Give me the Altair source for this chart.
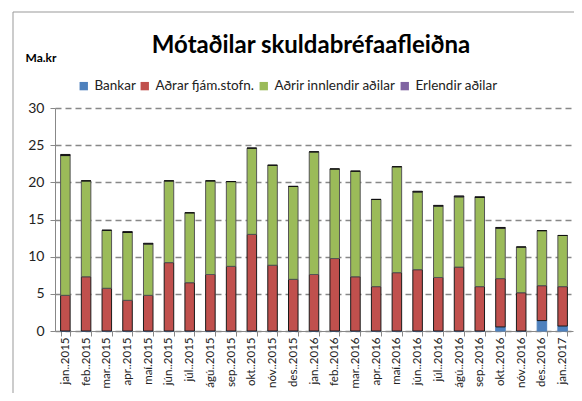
import altair as alt
import pandas as pd

months = ["jan..2015", "feb..2015", "mar..2015", "apr..2015", "maí.2015", "jún..2015",
          "júl..2015", "ágú..2015", "sep..2015", "okt..2015", "nóv..2015", "des..2015",
          "jan..2016", "feb..2016", "mar..2016", "apr..2016", "maí.2016", "jún..2016",
          "júl..2016", "ágú..2016", "sep..2016", "okt..2016", "nóv..2016", "des..2016",
          "jan..2017"]

bankar = [0, 0, 0, 0, 0, 0, 0, 0, 0, 0, 0, 0,
          0, 0, 0, 0, 0, 0, 0, 0, 0, 0.55, 0, 1.4, 0.67]
adrar_fjam = [4.8, 7.3, 5.75, 4.13, 4.8, 9.2, 6.5, 7.6, 8.7, 13.0, 8.85, 6.95,
              7.6, 9.75, 7.3, 5.97, 7.85, 8.25, 7.2, 8.6, 5.97, 6.5, 5.15, 4.7, 5.3]
adrir_innl = [18.8, 12.9, 7.8, 9.12, 6.9, 11.0, 9.4, 12.6, 11.4, 11.6, 13.45, 12.5,
              16.5, 12.05, 14.2, 11.73, 14.25, 10.45, 9.6, 9.45, 11.99, 6.78, 6.15, 7.4, 6.88]
erlendir = [0.15, 0, 0, 0.12, 0.1, 0, 0, 0, 0, 0, 0, 0,
            0, 0, 0, 0, 0, 0.1, 0.1, 0.12, 0.1, 0.1, 0, 0, 0]

series = ["Bankar", "Aðrar fjám.stofn.", "Aðrir innlendir aðilar", "Erlendir aðilar"]
colors = ["#4F81BD", "#C0504D", "#9BBB59", "#8064A2"]
strokes = ["#4F81BD", "#1a1a1a", "#555555", "#111111"]
title_text = ["Mótaðilar skuldabréfaafleiðna"]

rows = []
for i, m in enumerate(months):
    for k, (s, vals) in enumerate(zip(series, [bankar, adrar_fjam, adrir_innl, erlendir])):
        rows.append({"month": m, "series": s, "value": vals[i], "order": k})
df = pd.DataFrame(rows)

FONT = "Lato"

bars = alt.Chart(df).mark_bar(strokeWidth=1).encode(
    x=alt.X("month:N", sort=months,
            scale=alt.Scale(paddingInner=0.54, paddingOuter=0.27),
            axis=alt.Axis(title=None, labelAngle=270, labelAlign="right", labelBaseline="middle",
                          labelPadding=1, tickBand="extent", tickSize=5, tickColor="#888888",
                          domainColor="#888888", labelFont=FONT, labelFontSize=11.5,
                          labelColor="#222222", grid=False)),
    y=alt.Y("value:Q", stack="zero",
            scale=alt.Scale(domain=[0, 30]),
            axis=alt.Axis(values=[0, 5, 10, 15, 20, 25, 30], title="Ma.kr", titleAngle=0,
                          titleX=-30, titleY=-51, titleAlign="left", titleBaseline="middle",
                          titleFont=FONT, titleFontSize=12, titleFontWeight="bold",
                          titleColor="#000000",
                          labelFont=FONT, labelFontSize=14, labelColor="#222222",
                          labelPadding=6, tickSize=5, tickColor="#888888",
                          domainColor="#888888", gridColor="#888888", gridDash=[6, 4],
                          gridWidth=1.3)),
    color=alt.Color("series:N", sort=series,
                    scale=alt.Scale(domain=series, range=colors),
                    legend=alt.Legend(title=None, orient="none", direction="horizontal",
                                      legendX=22, legendY=-29, symbolType="square",
                                      symbolSize=70, symbolStrokeWidth=0,
                                      labelFont=FONT, labelFontSize=13.5, labelColor="#222222",
                                      columnPadding=2, labelOffset=4)),
    stroke=alt.Stroke("series:N", scale=alt.Scale(domain=series, range=strokes), legend=None),
    order=alt.Order("order:Q", sort="ascending"),
)

frame_src = pd.DataFrame({"a": [0]})
frame_top = alt.Chart(frame_src).mark_rule(stroke="#999999", strokeWidth=1).encode(
    x=alt.value(-42), x2=alt.value(600), y=alt.value(-96))
frame_left = alt.Chart(frame_src).mark_rule(stroke="#999999", strokeWidth=1).encode(
    x=alt.value(-42), y=alt.value(-96), y2=alt.value(400))

title = alt.Chart(pd.DataFrame({"t": title_text})).mark_text(
    font=FONT, fontSize=24, fontWeight="bold", color="#000000",
    align="center", baseline="alphabetic"
).encode(text="t:N", x=alt.value(256), y=alt.value(-55))

chart = alt.layer(frame_top, frame_left, bars, title).properties(
    width=518, height=223,
    autosize=alt.AutoSizeParams(type="none"),
    padding={"left": 47, "top": 100, "right": 1, "bottom": 62},
).configure_view(stroke=None)

chart.save("out.html", embed_options={"renderer": "svg", "actions": False})
